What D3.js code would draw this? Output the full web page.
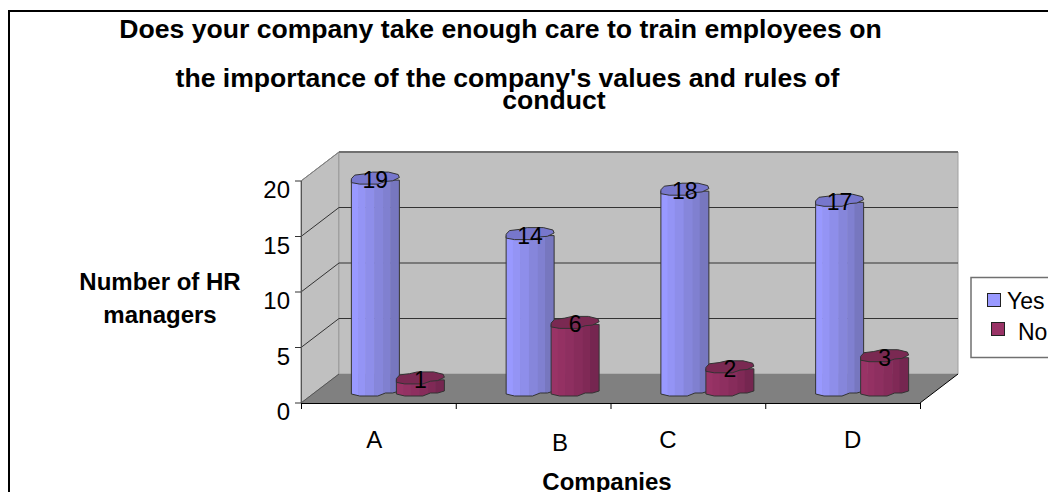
<!DOCTYPE html>
<html><head><meta charset="utf-8">
<script src="https://cdn.jsdelivr.net/npm/d3@7/dist/d3.min.js"></script>
<style>html,body{margin:0;padding:0;background:#fff;overflow:hidden}svg{display:block}text{font-family:"Liberation Sans",Arial,sans-serif;fill:#000}</style>
</head><body><svg id="c" width="1048" height="492"></svg>
<script>
const categories = ["A","B","C","D"];
const yesValues = [19,14,18,17];
const noValues = [1,6,2,3];
const yTicks = [0,5,10,15,20];
const seriesNames = ["Yes","No"];
const titleLines = ["Does your company take enough care to train employees on","the importance of the company's values and rules of","conduct"];
const yLabel = ["Number of HR","managers"];
const xLabel = "Companies";

const svg = d3.select("#c");
// oblique 3D frame
const dx = 38, dy = -29;
const y = d3.scaleLinear().domain([0,20]).range([403,181]);
const x = d3.scaleBand().domain(categories).range([301,920]);
const poly = pts => pts.map(p=>p.join(",")).join(" ");

svg.append("rect").attr("x",9).attr("y",11).attr("width",1060).attr("height",520).attr("fill","#fff").attr("stroke","#000").attr("stroke-width",2);

// walls
const x0=x.range()[0], x1=x.range()[1], yb=y(0), yt=y(20);
svg.append("polygon").attr("points",poly([[x0,yb],[x0,yt],[x0+dx,yt+dy],[x0+dx,yb+dy]])).attr("fill","#c0c0c0").attr("stroke","#808080");
svg.append("polygon").attr("points",poly([[x0+dx,yb+dy],[x0+dx,yt+dy],[x1+dx,yt+dy],[x1+dx,yb+dy]])).attr("fill","#c0c0c0").attr("stroke","#a0a0a0").attr("stroke-width",1);
svg.append("line").attr("x1",x0+dx).attr("x2",x1+dx).attr("y1",yt+dy).attr("y2",yt+dy).attr("stroke","#707070").attr("stroke-width",2);
svg.append("polygon").attr("points",poly([[x0,yb],[x1,yb],[x1+dx,yb+dy],[x0+dx,yb+dy]])).attr("fill","#808080");
// gridlines
yTicks.slice(1,-1).forEach(t=>{
  svg.append("polyline").attr("points",poly([[x0,y(t)],[x0+dx,y(t)+dy],[x1+dx,y(t)+dy]])).attr("fill","none").attr("stroke","#333").attr("stroke-width",1);
});
svg.append("line").attr("x1",x0).attr("y1",yt).attr("x2",x0+dx).attr("y2",yt+dy).attr("stroke","#808080");
svg.append("line").attr("x1",x0).attr("y1",yb).attr("x2",x0+dx).attr("y2",yb+dy).attr("stroke","#555");
svg.append("line").attr("x1",x1).attr("y1",yb).attr("x2",x1+dx).attr("y2",yb+dy).attr("stroke","#000");
// axes
svg.append("line").attr("x1",x0+.5).attr("x2",x0+.5).attr("y1",yt).attr("y2",yb).attr("stroke","#555");
yTicks.forEach(t=>{
  svg.append("line").attr("x1",x0-6).attr("x2",x0).attr("y1",y(t)).attr("y2",y(t)).attr("stroke","#333");
  svg.append("text").attr("x",x0-11).attr("y",y(t)+17).attr("text-anchor","end").attr("font-size",24).text(t);
});
svg.append("line").attr("x1",x0).attr("x2",x1).attr("y1",yb+.5).attr("y2",yb+.5).attr("stroke","#000");
[...categories.map(c=>x(c)),x1].forEach(v=>svg.append("line").attr("x1",v+.5).attr("x2",v+.5).attr("y1",yb).attr("y2",yb+6).attr("stroke","#000"));
const catOffs={A:-4,B:27,C:-20,D:10};
categories.forEach(c=>svg.append("text").attr("x",x(c)+x.bandwidth()/2+catOffs[c]).attr("y",c==="B"?451:448).attr("text-anchor","middle").attr("font-size",24).text(c));

// faceted cylinders
const R=24, ry=6;
const outline=[[-1,0.1],[-.86,-.5],[-.45,-.7],[-.12,-1],[.55,-1],[.95,-.6],[1,-.1],[.72,.45],[.42,.55],[.1,1],[-.65,1],[-1,.75]];
const facetStops=[-1,-.72,-.42,-.05,.32,.62,1];
const blueShades=["#9999ff","#9494f5","#8e8eea","#8686db","#8080d0","#7777bf"];
const redShades=["#993366","#943163","#8e2f60","#872c5b","#802956","#752650"];
function cyl(cx,val,shades,top){
  const base=389, h=y(0)-y(val), tc=base-h;
  const g=svg.append("g");
  const lower=[[-1,tc+2],[1,tc+2],[1,base+2],[.72,base+4],[.42,base+4],[.1,base+7],[-.65,base+7],[-1,base+5]];
  const clipId="cl"+Math.round(cx);
  g.append("clipPath").attr("id",clipId).append("polygon").attr("points",poly(lower.map(p=>[cx+p[0]*R,p[1]])));
  const fg=g.append("g").attr("clip-path",`url(#${clipId})`);
  shades.forEach((s,i)=>fg.append("rect").attr("x",cx+facetStops[i]*R).attr("width",(facetStops[i+1]-facetStops[i])*R+.5).attr("y",tc).attr("height",base+8-tc).attr("fill",s));
  g.append("polygon").attr("points",poly(lower.map(p=>[cx+p[0]*R,p[1]]))).attr("fill","none").attr("stroke","#333").attr("stroke-width",1);
  g.append("polygon").attr("points",poly(outline.map(p=>[cx+p[0]*R,tc+p[1]*ry]))).attr("fill",top).attr("stroke","#333").attr("stroke-width",1);
  g.append("text").attr("x",cx).attr("y",tc+10).attr("text-anchor","middle").attr("font-size",23).text(val);
}
categories.forEach((c,i)=>{
  const xm=x(c)+x.bandwidth()/2;
  cyl(xm-3,yesValues[i],blueShades,"#7777cc");
  cyl(xm+42,noValues[i],redShades,"#7a2952");
});

// titles
const tx=[500.5,507.5,554], ty=[38,87,109];
titleLines.forEach((t,i)=>svg.append("text").attr("x",tx[i]).attr("y",ty[i]).attr("text-anchor","middle").attr("font-size",26.6).attr("font-weight","bold").text(t));
yLabel.forEach((t,i)=>svg.append("text").attr("x",160).attr("y",[290,323][i]).attr("text-anchor","middle").attr("font-size",24).attr("font-weight","bold").text(t));
svg.append("text").attr("x",607).attr("y",490).attr("text-anchor","middle").attr("font-size",24).attr("font-weight","bold").text(xLabel);

// legend
svg.append("rect").attr("x",971).attr("y",277.5).attr("width",100).attr("height",80).attr("fill","#fff").attr("stroke","#707070").attr("stroke-width",1.5);
[["#9999ff",987.5,293.5,1007,309],["#993366",991.5,322.5,1018,340]].forEach((d,i)=>{
  svg.append("rect").attr("x",d[1]).attr("y",d[2]).attr("width",13).attr("height",13).attr("fill",d[0]).attr("stroke","#222");
  svg.append("text").attr("x",d[3]).attr("y",d[4]).attr("font-size",23).text(seriesNames[i]);
});
</script></body></html>
